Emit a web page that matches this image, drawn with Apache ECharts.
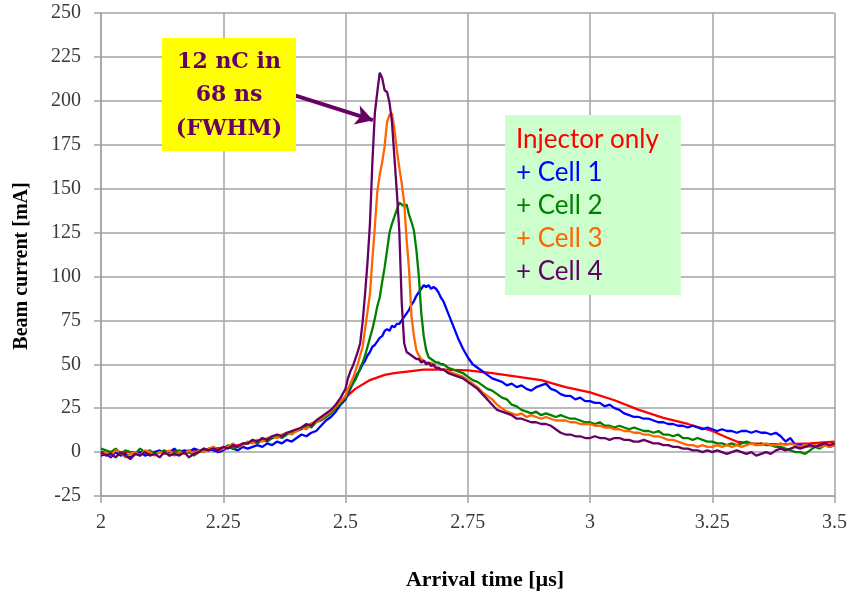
<!DOCTYPE html>
<html>
<head>
<meta charset="utf-8">
<script src="https://cdn.jsdelivr.net/npm/echarts/dist/echarts.min.js"></script>
<style>
html,body{margin:0;padding:0;background:#fff;}
#chart{width:850px;height:598px;}
</style>
</head>
<body>
<div id="chart"></div>
<script>
// Sample times [µs] shared by the four cell traces
const time = [
 2.00,2.01,2.02,2.03,2.04,2.05,2.06,2.07,2.08,2.09,
 2.10,2.11,2.12,2.13,2.14,2.15,2.16,2.17,2.18,2.19,
 2.20,2.21,2.22,2.23,2.24,2.25,2.26,2.27,2.28,2.29,
 2.30,2.31,2.32,2.33,2.34,2.35,2.36,2.37,2.38,2.39,
 2.40,2.41,2.42,2.43,2.44,2.45,2.46,2.47,2.48,2.49,
 2.500,2.505,2.510,2.515,2.520,2.525,2.530,2.535,2.540,2.545,
 2.550,2.555,2.560,2.565,2.570,2.575,2.580,2.585,2.590,2.595,
 2.600,2.605,2.610,2.615,2.620,2.625,2.630,2.635,2.640,2.645,
 2.650,2.655,2.660,2.665,2.670,2.675,2.680,2.685,2.690,2.695,
 2.700,
 2.71,2.72,2.73,2.74,2.75,2.76,2.77,2.78,2.79,2.80,
 2.81,2.82,2.83,2.84,2.85,2.86,2.87,2.88,2.89,2.90,
 2.91,2.92,2.93,2.94,2.95,2.96,2.97,2.98,2.99,3.00,
 3.01,3.02,3.03,3.04,3.05,3.06,3.07,3.08,3.09,3.10,
 3.11,3.12,3.13,3.14,3.15,3.16,3.17,3.18,3.19,3.20,
 3.21,3.22,3.23,3.24,3.25,3.26,3.27,3.28,3.29,3.30,
 3.31,3.32,3.33,3.34,3.35,3.36,3.37,3.38,3.39,3.40,
 3.41,3.42,3.43,3.44,3.45,3.46,3.47,3.48,3.49,3.50
];

const cell1 = [
 -2,-1,-3,0,-2,-1,-3,-1,0,-2, -1,0,1,-1,0,2,-1,1,0,2, 1,0,2,1,0,1,3,2,1,3,
 2,3,4,3,5,4,6,5,7,6, 8,10,9,11,12,15,18,20,23,27,
 30,33,36,39,42,45,47,50,52,55, 57,60,61,63,65,66,69,70,69,72,
 71,73,73,75,77,79,81,84,86,89, 91,93,95,94,95,93,94,93,91,88, 86,
 79,72,65,59,54,50,48,46,44,42, 41,40,38,39,37,38,36,35,37,38,
 39,36,35,33,32,32,30,31,29,29, 28,28,26,27,25,24,22,21,20,20,
 19,19,18,17,17,16,16,15,15,14, 15,14,13,14,13,12,13,12,12,11,
 12,12,11,12,11,11,10,11,9,6, 8,4,4,3,4,3,4,5,3,4
];

const cell2 = [
 2,1,0,2,-1,1,0,-1,2,0, 1,-1,0,1,-2,0,1,-1,0,-2, 0,2,1,3,1,2,4,2,3,5,
 5,6,5,7,6,8,9,8,10,11, 12,13,15,14,17,18,20,22,25,28,
 31,34,37,39,41,44,48,51,55,60, 65,70,76,83,88,97,105,115,125,130,
 134,138,142,141,140,141,135,131,126,115, 100,79,66,58,54,53,52,51,51,50, 50,
 48,47,46,45,43,41,40,38,36,35, 33,31,30,27,26,24,23,22,23,21,
 22,21,20,21,20,19,19,18,17,17, 16,17,15,15,14,15,14,13,14,13,
 12,12,11,12,10,10,9,10,8,8, 7,8,7,6,6,5,5,4,5,4,
 5,6,5,4,5,4,4,3,3,2, 1,0,0,-1,1,3,2,4,3,5
];

const cell3 = [
 -1,0,-2,1,0,-3,-1,0,-2,1, 0,-2,0,-1,1,-2,0,-1,1,-1, 1,0,2,3,1,2,3,5,3,4,
 6,5,7,6,8,9,8,10,11,10, 12,14,13,16,17,19,21,23,26,29,
 32,36,39,42,46,50,55,60,70,80, 90,110,128,148,158,165,174,188,192,193,
 184,172,162,153,142,121,104,77,66,58, 55,53,52,51,50,51,49,48,48,47, 47,
 46,45,44,43,41,39,37,34,32,30, 27,25,23,22,21,22,20,21,20,19,
 20,19,18,18,18,17,17,16,16,16, 15,15,14,14,13,13,12,12,11,11,
 10,10,9,9,8,7,7,6,5,4, 4,3,4,3,3,4,3,4,3,4,
 3,4,5,4,4,5,4,4,5,4, 5,4,3,4,3,4,3,4,3,4
];

const cell4 = [
 0,-2,-1,-3,0,-2,-4,-1,-2,0, -2,-1,-3,0,-2,-1,-2,0,-3,-1, 0,2,1,2,1,3,2,4,3,5,
 5,7,6,8,7,9,10,9,11,12, 13,14,16,15,18,20,22,24,27,31,
 36,42,46,49,53,57,62,74,90,108, 130,165,193,205,216,213,206,205,199,188,
 168,148,126,85,62,57,56,55,54,53, 53,51,52,50,51,49,50,48,48,47, 47,
 45,44,43,42,40,38,36,33,30,27, 24,23,22,21,19,19,18,17,17,16,
 16,15,13,11,10,10,9,9,8,8, 9,8,8,7,8,8,7,7,6,6,
 7,6,5,5,4,4,3,3,2,2, 1,1,0,1,0,1,0,-1,0,1,
 0,-1,0,-2,-1,0,-1,1,2,1, 2,3,2,3,4,3,4,5,4,5
];

// Injector-only trace (smooth), own sample times
const injectorTime = [2.00,2.05,2.10,2.15,2.20,2.25,2.30,2.35,2.40,2.45,2.48,2.50,2.52,2.55,2.58,2.60,2.63,2.66,2.70,2.75,2.80,2.85,2.90,2.95,3.00,3.05,3.10,3.15,3.20,3.25,3.28,3.30,3.33,3.36,3.40,3.45,3.50];
const injector = [0,0,0,0.5,1,2.5,5,8,12,19,25,31,36,41,44,45,46,47,47,46.5,45,43,41,37,34,29.5,24,19.5,16,12,8.3,6,5,4.5,4.5,5,6];

const seriesNames = ['Injector only','+ Cell 1','+ Cell 2','+ Cell 3','+ Cell 4'];
const seriesColors = ['#ff0000','#0000ff','#008000','#ff6600','#660066'];
const xTicks = [2, 2.25, 2.5, 2.75, 3, 3.25, 3.5];
const yTicks = [-25, 0, 25, 50, 75, 100, 125, 150, 175, 200, 225, 250];
const annotationLines = ['12 nC in', '68 ns', '(FWHM)'];

function pairs(xs, ys){ return xs.map((t,i)=>[t, ys[i]]); }

const dataSets = [pairs(injectorTime, injector), pairs(time, cell1), pairs(time, cell2), pairs(time, cell3), pairs(time, cell4)];

const chart = echarts.init(document.getElementById('chart'), null, {renderer:'canvas'});
const gridColor = '#a3a3a3';
const series = dataSets.map((d, i) => ({
  name: seriesNames[i],
  type: 'line',
  data: d,
  showSymbol: false,
  symbol: 'none',
  smooth: false,
  lineStyle: {width: 2.3, color: seriesColors[i]},
  itemStyle: {color: seriesColors[i]},
  z: 2 + i,
  animation: false
}));
// Arrow from the annotation box to the Cell 4 peak
series[4].markLine = {
  silent: true,
  animation: false,
  symbol: ['none', 'arrow'],
  symbolSize: [15, 17],
  label: {show: false},
  lineStyle: {color: '#660066', width: 4, type: 'solid'},
  data: [[{coord: [2.398, 203]}, {coord: [2.556, 189]}]]
};

const graphics = [
  {type:'rect', shape:{x:162, y:38, width:134, height:113}, style:{fill:'#ffff00'}, z:20},
  {type:'text', x:22, y:266, rotation: Math.PI/2, z:20,
   style:{text:'Beam current [mA]', font:'bold 20px "Liberation Serif"', fill:'#000', textAlign:'center', textVerticalAlign:'middle', align:'center', verticalAlign:'middle'}},
  {type:'text', x:485, y:580, z:20,
   style:{text:'Arrival time [\u00b5s]', font:'bold 22px "Liberation Serif"', fill:'#000', textAlign:'center', textVerticalAlign:'middle', align:'center', verticalAlign:'middle'}}
];
annotationLines.forEach((s, i) => {
  graphics.push({type:'text', x:229, y:62 + i*33.5, z:21,
    style:{text:s, font:'bold 22px "DejaVu Serif"', fill:'#660066', textAlign:'center', textVerticalAlign:'middle', align:'center', verticalAlign:'middle'}});
});

chart.setOption({
  animation: false,
  backgroundColor: '#ffffff',
  grid: {left: 101, right: 15, top: 13, bottom: 102, containLabel: false},
  legend: {
    left: 505, top: 115,
    orient: 'vertical',
    backgroundColor: '#ccffcc',
    padding: [8, 22, 7, 6],
    itemGap: 0,
    itemWidth: 0,
    itemHeight: 0,
    icon: 'rect',
    selectedMode: false,
    data: seriesNames.map((n, i) => ({name: n, icon: 'rect', itemStyle:{opacity:0}, lineStyle:{opacity:0},
      textStyle: {color: seriesColors[i], fontFamily: 'Lato', fontSize: 26, lineHeight: 33}})),
    z: 20
  },
  xAxis: {
    type: 'value', min: 2, max: 3.5, interval: 0.25,
    axisLine: {onZero: false, lineStyle: {color: gridColor, width: 1.5}},
    axisTick: {show: true, length: 7, lineStyle: {color: gridColor, width: 1.5}},
    axisLabel: {margin: 17, color: '#3a3a3a', fontFamily: 'Liberation Serif', fontSize: 20,
      formatter: v => { const t = xTicks.find(x => Math.abs(x - v) < 1e-9); return t === undefined ? '' : String(t); }},
    splitLine: {show: true, lineStyle: {color: gridColor, width: 1.5}}
  },
  yAxis: {
    type: 'value', min: -25, max: 250, interval: 25,
    axisLine: {show: true, lineStyle: {color: gridColor, width: 1.5}},
    axisTick: {show: true, length: 7, lineStyle: {color: gridColor, width: 1.5}},
    axisLabel: {margin: 20, color: '#3a3a3a', fontFamily: 'Liberation Serif', fontSize: 20,
      formatter: v => { const t = yTicks.find(y => Math.abs(y - v) < 1e-9); return t === undefined ? '' : String(t); }},
    splitLine: {show: true, lineStyle: {color: gridColor, width: 1.5}}
  },
  series: series,
  graphic: graphics
});
</script>
</body>
</html>
